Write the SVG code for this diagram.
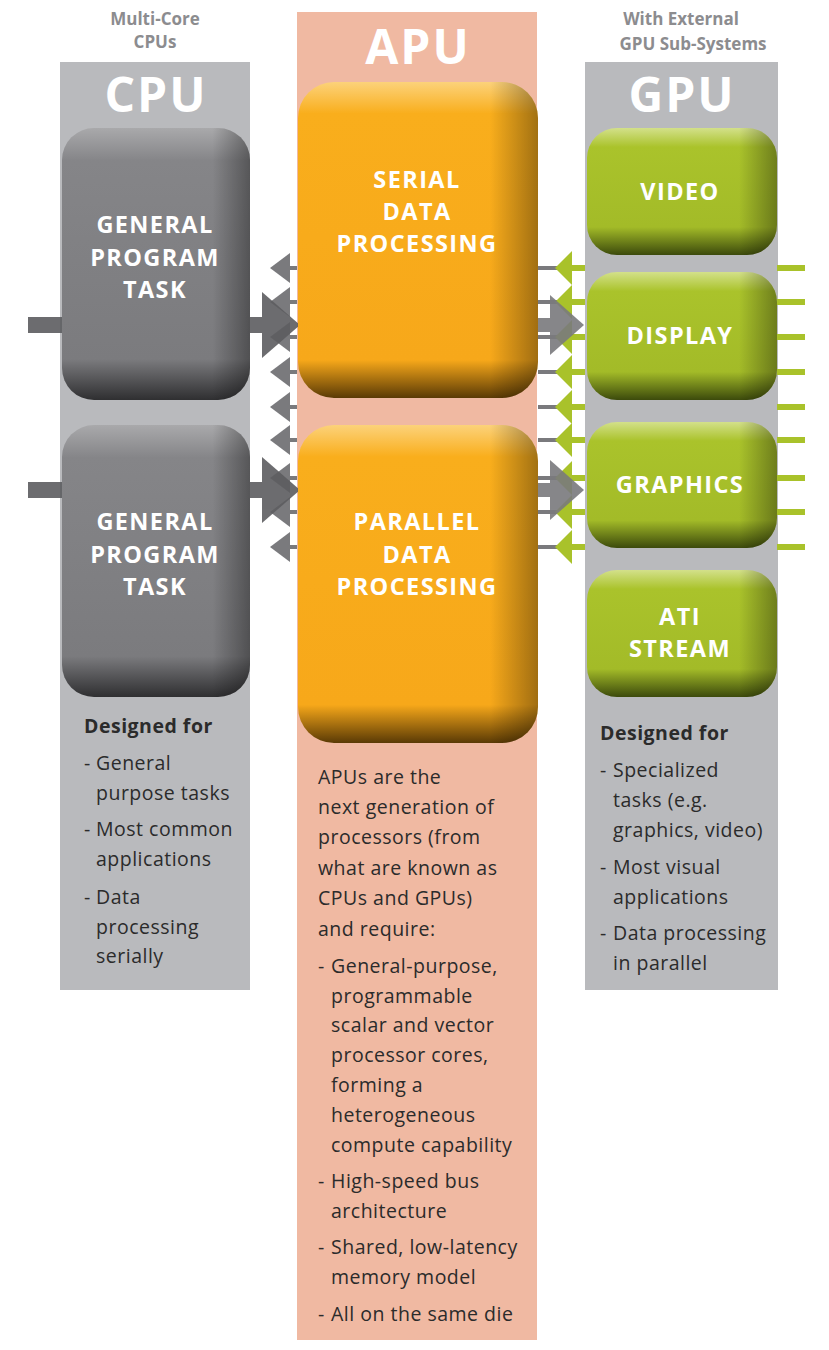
<svg xmlns="http://www.w3.org/2000/svg" width="829" height="1350" viewBox="0 0 829 1350">
<defs>
<linearGradient id="gCpu" x1="0" y1="0" x2="0" y2="1"><stop offset="0" stop-color="#a9a9ab"/><stop offset="0.12" stop-color="#858588"/><stop offset="0.85" stop-color="#7b7b7e"/><stop offset="1" stop-color="#2f2f31"/></linearGradient>
<linearGradient id="gApu" x1="0" y1="0" x2="0" y2="1"><stop offset="0" stop-color="#fcd27a"/><stop offset="0.1" stop-color="#f9ae1c"/><stop offset="0.88" stop-color="#f7a81a"/><stop offset="1" stop-color="#5a3a05"/></linearGradient>
<linearGradient id="gGpu" x1="0" y1="0" x2="0" y2="1"><stop offset="0" stop-color="#d3e08a"/><stop offset="0.15" stop-color="#aac32b"/><stop offset="0.78" stop-color="#a3bb28"/><stop offset="1" stop-color="#3c4a0c"/></linearGradient>
<linearGradient id="gSide" x1="0" y1="0" x2="1" y2="0"><stop offset="0.8" stop-color="#000" stop-opacity="0"/><stop offset="1" stop-color="#000" stop-opacity="0.35"/></linearGradient>
</defs>
<style>
.col{fill:#b9babd}
.t{font-family:"Open Sans","Liberation Sans",sans-serif;font-weight:bold;fill:#fff;text-anchor:middle;font-size:23.5px;letter-spacing:1.4px}
.big{font-size:48px;letter-spacing:2px}
.cap{font-family:"Open Sans","Liberation Sans",sans-serif;font-weight:bold;fill:#8c8c8f;text-anchor:middle;font-size:17px}
.b{font-family:"Open Sans","Liberation Sans",sans-serif;fill:#2b2b2b;font-size:19.5px;letter-spacing:0.5px}
.bb{font-weight:bold}
.la{fill:#7a7a7d}
.ga{fill:#a9c22a}
.dk{fill:#5d5d60}
.gs{fill:#7a7a7d}
</style>
<rect class="col" x="60" y="62" width="190" height="928"/>
<rect x="297" y="12" width="240" height="1328" fill="#f0b9a2"/>
<rect class="col" x="585" y="62" width="193" height="928"/>
<text class="cap" x="155" y="25">Multi-Core</text><text class="cap" x="155" y="48">CPUs</text>
<text class="cap" x="681" y="25">With External</text><text class="cap" x="693" y="50">GPU Sub-Systems</text>
<text class="t big" x="156" y="112">CPU</text>
<text class="t big" x="418" y="64">APU</text>
<text class="t big" x="682" y="112">GPU</text>
<g id="connectors">
<g id="left-small">
<rect x="288" y="266" width="9" height="4" class="la"/><polygon points="270,268 290,253 290,283" class="la"/>
<rect x="288" y="300" width="9" height="4" class="la"/><polygon points="270,302 290,287 290,317" class="la"/>
<rect x="288" y="335" width="9" height="4" class="la"/><polygon points="270,337 290,322 290,352" class="la"/>
<rect x="288" y="370" width="9" height="4" class="la"/><polygon points="270,372 290,357 290,387" class="la"/>
<rect x="288" y="405" width="9" height="4" class="la"/><polygon points="270,407 290,392 290,422" class="la"/>
<rect x="288" y="438" width="9" height="4" class="la"/><polygon points="270,440 290,425 290,455" class="la"/>
<rect x="288" y="476" width="9" height="4" class="la"/><polygon points="270,478 290,463 290,493" class="la"/>
<rect x="288" y="510" width="9" height="4" class="la"/><polygon points="270,512 290,497 290,527" class="la"/>
<rect x="288" y="545" width="9" height="4" class="la"/><polygon points="270,547 290,532 290,562" class="la"/>
</g>
<g id="cpu-in" opacity="0.9">
<rect x="28" y="317" width="240" height="16" class="dk"/><polygon points="262,292 300,325 262,358" class="dk"/>
<rect x="28" y="482" width="240" height="16" class="dk"/><polygon points="262,457 300,490 262,523" class="dk"/>
</g>
<g id="right-small">
<rect x="538" y="266" width="20" height="4" class="gs"/><rect x="570" y="265" width="15" height="6" class="ga"/><polygon points="555,268 572,251 572,285" class="ga"/><rect x="777" y="265" width="28" height="6" class="ga"/>
<rect x="538" y="300" width="20" height="4" class="gs"/><rect x="570" y="299" width="15" height="6" class="ga"/><polygon points="555,302 572,285 572,319" class="ga"/><rect x="777" y="299" width="28" height="6" class="ga"/>
<rect x="538" y="335" width="20" height="4" class="gs"/><rect x="570" y="334" width="15" height="6" class="ga"/><polygon points="555,337 572,320 572,354" class="ga"/><rect x="777" y="334" width="28" height="6" class="ga"/>
<rect x="538" y="370" width="20" height="4" class="gs"/><rect x="570" y="369" width="15" height="6" class="ga"/><polygon points="555,372 572,355 572,389" class="ga"/><rect x="777" y="369" width="28" height="6" class="ga"/>
<rect x="538" y="405" width="20" height="4" class="gs"/><rect x="570" y="404" width="15" height="6" class="ga"/><polygon points="555,407 572,390 572,424" class="ga"/><rect x="777" y="404" width="28" height="6" class="ga"/>
<rect x="538" y="438" width="20" height="4" class="gs"/><rect x="570" y="437" width="15" height="6" class="ga"/><polygon points="555,440 572,423 572,457" class="ga"/><rect x="777" y="437" width="28" height="6" class="ga"/>
<rect x="538" y="476" width="20" height="4" class="gs"/><rect x="570" y="475" width="15" height="6" class="ga"/><polygon points="555,478 572,461 572,495" class="ga"/><rect x="777" y="475" width="28" height="6" class="ga"/>
<rect x="538" y="510" width="20" height="4" class="gs"/><rect x="570" y="509" width="15" height="6" class="ga"/><polygon points="555,512 572,495 572,529" class="ga"/><rect x="777" y="509" width="28" height="6" class="ga"/>
<rect x="538" y="545" width="20" height="4" class="gs"/><rect x="570" y="544" width="15" height="6" class="ga"/><polygon points="555,547 572,530 572,564" class="ga"/><rect x="777" y="544" width="28" height="6" class="ga"/>
</g>
<g id="gpu-out" opacity="0.9">
<rect x="538" y="318" width="20" height="14" class="gs"/><polygon points="550,295 584,325 550,355" class="gs"/>
<rect x="538" y="483" width="20" height="14" class="gs"/><polygon points="550,460 584,490 550,520" class="gs"/>
</g>
</g>
<g id="cpu1"><rect x="62" y="128" width="188" height="272" rx="32" fill="url(#gCpu)"/><rect x="62" y="128" width="188" height="272" rx="32" fill="url(#gSide)"/><text class="t" x="155" y="233">GENERAL</text><text class="t" x="155" y="266">PROGRAM</text><text class="t" x="155" y="298">TASK</text></g>
<g id="cpu2"><rect x="62" y="425" width="188" height="272" rx="32" fill="url(#gCpu)"/><rect x="62" y="425" width="188" height="272" rx="32" fill="url(#gSide)"/><text class="t" x="155" y="530">GENERAL</text><text class="t" x="155" y="563">PROGRAM</text><text class="t" x="155" y="595">TASK</text></g>
<g id="apu1"><rect x="298" y="82" width="240" height="316" rx="36" fill="url(#gApu)"/><rect x="298" y="82" width="240" height="316" rx="36" fill="url(#gSide)"/><text class="t" x="417" y="188">SERIAL</text><text class="t" x="417" y="220">DATA</text><text class="t" x="417" y="252">PROCESSING</text></g>
<g id="apu2"><rect x="298" y="425" width="240" height="318" rx="36" fill="url(#gApu)"/><rect x="298" y="425" width="240" height="318" rx="36" fill="url(#gSide)"/><text class="t" x="417" y="530">PARALLEL</text><text class="t" x="417" y="563">DATA</text><text class="t" x="417" y="595">PROCESSING</text></g>
<g id="video"><rect x="587" y="128" width="190" height="127" rx="30" fill="url(#gGpu)"/><rect x="587" y="128" width="190" height="127" rx="30" fill="url(#gSide)"/><text class="t" x="680" y="200">VIDEO</text></g>
<g id="display"><rect x="587" y="272" width="190" height="128" rx="30" fill="url(#gGpu)"/><rect x="587" y="272" width="190" height="128" rx="30" fill="url(#gSide)"/><text class="t" x="680" y="344">DISPLAY</text></g>
<g id="graphics"><rect x="587" y="422" width="190" height="126" rx="30" fill="url(#gGpu)"/><rect x="587" y="422" width="190" height="126" rx="30" fill="url(#gSide)"/><text class="t" x="680" y="493">GRAPHICS</text></g>
<g id="atistream"><rect x="587" y="570" width="190" height="127" rx="30" fill="url(#gGpu)"/><rect x="587" y="570" width="190" height="127" rx="30" fill="url(#gSide)"/><text class="t" x="680" y="625">ATI</text><text class="t" x="680" y="657">STREAM</text></g>
<g id="cpu-text" class="b">
<text x="84" y="733" class="bb">Designed for</text>
<text x="84" y="770">-</text><text x="96" y="770">General</text><text x="96" y="800">purpose tasks</text>
<text x="84" y="836">-</text><text x="96" y="836">Most common</text><text x="96" y="866">applications</text>
<text x="84" y="904">-</text><text x="96" y="904">Data</text><text x="96" y="934">processing</text><text x="96" y="963">serially</text>
</g>
<g id="apu-text" class="b">
<text x="318" y="784">APUs are the</text><text x="318" y="814">next generation of</text><text x="318" y="844">processors (from</text><text x="318" y="875">what are known as</text><text x="318" y="905">CPUs and GPUs)</text><text x="318" y="936">and require:</text>
<text x="318" y="973">-</text><text x="331" y="973">General-purpose,</text><text x="331" y="1003">programmable</text><text x="331" y="1032">scalar and vector</text><text x="331" y="1062">processor cores,</text><text x="331" y="1092">forming a</text><text x="331" y="1122">heterogeneous</text><text x="331" y="1152">compute capability</text>
<text x="318" y="1188">-</text><text x="331" y="1188">High-speed bus</text><text x="331" y="1218">architecture</text>
<text x="318" y="1254">-</text><text x="331" y="1254">Shared, low-latency</text><text x="331" y="1284">memory model</text>
<text x="318" y="1321">-</text><text x="331" y="1321">All on the same die</text>
</g>
<g id="gpu-text" class="b">
<text x="600" y="740" class="bb">Designed for</text>
<text x="600" y="777">-</text><text x="613" y="777">Specialized</text><text x="613" y="807">tasks (e.g.</text><text x="613" y="837">graphics, video)</text>
<text x="600" y="874">-</text><text x="613" y="874">Most visual</text><text x="613" y="904">applications</text>
<text x="600" y="940">-</text><text x="613" y="940">Data processing</text><text x="613" y="970">in parallel</text>
</g>
</svg>
